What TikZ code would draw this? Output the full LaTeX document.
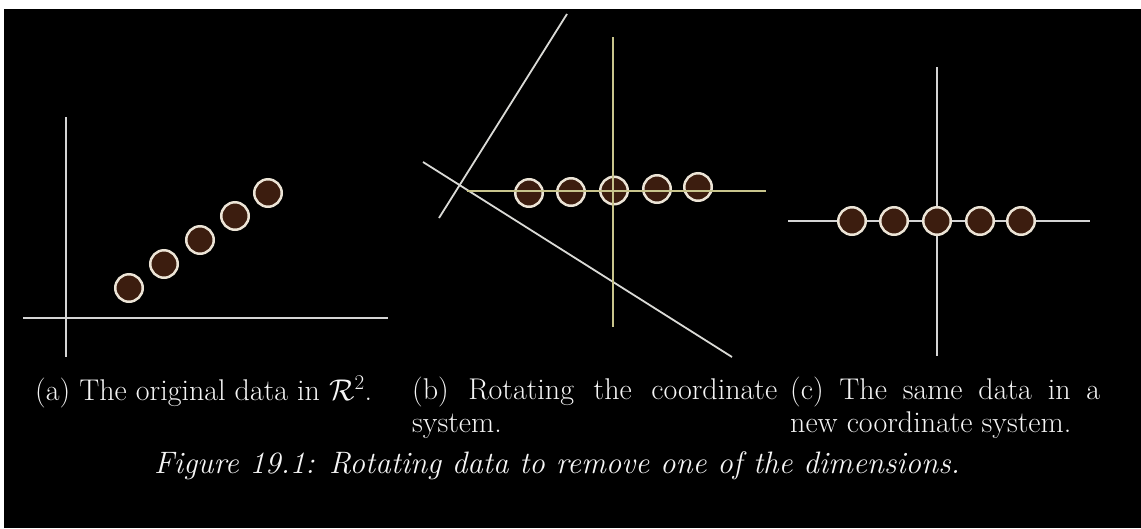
\RequirePackage{fix-cm}
\documentclass[tikz,border=0pt]{standalone}
\usepackage{fontspec}
\definecolor{axisgray}{RGB}{212,212,212}
\definecolor{rotgray}{RGB}{218,218,214}
\definecolor{yellowaxis}{RGB}{200,196,140}
\definecolor{dotbrown}{RGB}{60,29,15}
\definecolor{dotrim}{RGB}{236,228,214}
\definecolor{textcol}{RGB}{245,245,245}
\newcommand\mycapfont{\fontsize{30}{33.5}\selectfont\tolerance=10000 \hyphenpenalty=10000 \relax}
\newcommand\myfigfont{\fontsize{31}{34}\selectfont\itshape}
\begin{document}
\begin{tikzpicture}[x=1pt,y=-1pt,
  axis/.style={draw=axisgray, line width=2pt},
  rotline/.style={draw=rotgray, line width=1.8pt},
  yaxis/.style={draw=yellowaxis, line width=1.6pt},
  dot/.style={circle, fill=dotbrown, draw=dotrim, line width=2.5pt, minimum size=27.5pt, inner sep=0pt},
  captext/.style={anchor=base west, inner sep=0pt, text=textcol, align=justify, font=\mycapfont},
  figcap/.style={anchor=base west, inner sep=0pt, text=textcol, font=\myfigfont}
]
\useasboundingbox (0,0) rectangle (1141,528);
\fill[white] (0,0) rectangle (1141,528);
\fill[black] (4,9) rectangle (1141,528);

% ---------- panel (a) ----------
\coordinate (aVt) at (66,117);
\coordinate (aVb) at (66,357);
\coordinate (aHl) at (23,318);
\coordinate (aHr) at (388,318);
\draw[axis] (aVt) -- (aVb);
\draw[axis] (aHl) -- (aHr);
\node[dot] (a1) at (129,288) {};
\node[dot] (a2) at (164,264) {};
\node[dot] (a3) at (200,240) {};
\node[dot] (a4) at (235,216) {};
\node[dot] (a5) at (268,193) {};

% ---------- panel (b) ----------
\coordinate (bL1s) at (567,14);
\coordinate (bL1e) at (439,218);
\coordinate (bL2s) at (423,162);
\coordinate (bL2e) at (732,357);
\draw[rotline] (bL1s) -- (bL1e);
\draw[rotline] (bL2s) -- (bL2e);
\coordinate (bVt) at (613,37);
\coordinate (bVb) at (613,327);
\coordinate (bHl) at (467,191);
\coordinate (bHr) at (766,191);
\node[dot] (b1) at (529,193) {};
\node[dot] (b2) at (571,192) {};
\node[dot] (b3) at (614,190.5) {};
\node[dot] (b4) at (657,189) {};
\node[dot] (b5) at (698,187) {};
\draw[yaxis] (bVt) -- (bVb);
\draw[yaxis] (bHl) -- (bHr);

% ---------- panel (c) ----------
\coordinate (cVt) at (937,67);
\coordinate (cVb) at (937,356);
\coordinate (cHl) at (788,221);
\coordinate (cHr) at (1090,221);
\draw[axis] (cVt) -- (cVb);
\draw[axis] (cHl) -- (cHr);
\node[dot] (c1) at (852,221) {};
\node[dot] (c2) at (894,221) {};
\node[dot] (c3) at (937,221) {};
\node[dot] (c4) at (980,221) {};
\node[dot] (c5) at (1021,221) {};

% ---------- captions ----------
\node[anchor=base west, inner sep=0pt, text=textcol, font=\mycapfont] (capa) at (35,400) {(a) The original data in $\mathcal{R}^2$.};
\node[captext, text width=365pt] (capb) at (412,399) {(b) Rotating the coordinate system.};
\node[captext, text width=310pt] (capc) at (790,399) {(c) The same data in a new coordinate system.};
\node[figcap] (fig) at (154,473) {Figure 19.1: Rotating data to remove one of the dimensions.};
\end{tikzpicture}
\end{document}
